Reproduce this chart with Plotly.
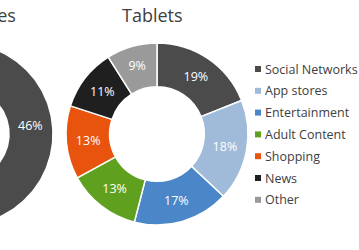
import numpy as np
import plotly.graph_objects as go

categories = ["Social Networks", "App stores", "Entertainment", "Adult Content",
              "Shopping", "News", "Other"]
colors = ["#4b4b4b", "#9fbbd9", "#4a86c8", "#5fa11f", "#e8540e", "#1f1f1f", "#9a9a9a"]
tablets = [19, 18, 17, 13, 13, 11, 9]
smartphones = [46, 15, 12, 8, 7, 7, 5]
titles = ["Smartphones", "Tablets"]

W, H = 359, 250
FONT = "Open Sans"
fig = go.Figure()
ann = []

# Left donut (mostly off-canvas) drawn on a pixel-mapped xy axis
cx, cy, R, r = -38, 134, 91, 47
total = sum(smartphones)
start = 0
for val, col in zip(smartphones, colors):
    a0 = start / total * 2 * np.pi
    a1 = (start + val) / total * 2 * np.pi
    t = np.linspace(a0, a1, 120)
    xs = np.concatenate([cx + R * np.sin(t), cx + r * np.sin(t[::-1])])
    ys = np.concatenate([cy - R * np.cos(t), cy - r * np.cos(t[::-1])])
    xs = np.append(xs, xs[0]); ys = np.append(ys, ys[0])
    fig.add_trace(go.Scatter(x=xs, y=ys, fill="toself", fillcolor=col, mode="lines",
                             line=dict(color="white", width=1.5), hoverinfo="skip",
                             showlegend=False))
    mid = (a0 + a1) / 2
    rm = (R + r) / 2
    ann.append(dict(x=cx + rm * np.sin(mid), y=cy - rm * np.cos(mid), xref="x", yref="y",
                    text=f"{val}%", showarrow=False,
                    font=dict(family=FONT, size=12.5, color="white")))
    start += val

# Tablets donut
cx2, cy2, R2 = 157, 134, 91
fig.add_trace(go.Pie(
    labels=categories, values=tablets, hole=0.52, sort=False, direction="clockwise",
    marker=dict(colors=colors, line=dict(color="white", width=1.5)),
    textinfo="percent", textposition="inside", insidetextorientation="horizontal",
    textfont=dict(family=FONT, size=12.5, color="white"),
    domain=dict(x=[(cx2 - R2) / W, (cx2 + R2) / W], y=[1 - (cy2 + R2) / H, 1 - (cy2 - R2) / H]),
    showlegend=False, hoverinfo="label+percent"))

# Titles
ann.append(dict(x=18, y=15, xref="x", yref="y", text=titles[0], xanchor="right",
                showarrow=False, font=dict(family=FONT, size=18, color="#404040")))
ann.append(dict(x=152, y=15, xref="x", yref="y", text=titles[1], xanchor="center",
                showarrow=False, font=dict(family=FONT, size=18, color="#404040")))

# Legend
ly0, lstep = 69, 21.8
ys_leg = [ly0 + i * lstep for i in range(len(categories))]
fig.add_trace(go.Scatter(x=[258] * len(categories), y=ys_leg, mode="markers",
                         marker=dict(symbol="square", size=6, color=colors),
                         hoverinfo="skip", showlegend=False))
for cat, yy in zip(categories, ys_leg):
    ann.append(dict(x=263, y=yy, xref="x", yref="y", text=cat, xanchor="left",
                    showarrow=False, font=dict(family=FONT, size=12.5, color="#404040")))

fig.update_layout(
    width=W, height=H, margin=dict(l=0, r=0, t=0, b=0),
    paper_bgcolor="white", plot_bgcolor="white",
    xaxis=dict(range=[0, W], visible=False, fixedrange=True),
    yaxis=dict(range=[H, 0], visible=False, fixedrange=True),
    annotations=ann,
)
fig.write_html("out.html")
